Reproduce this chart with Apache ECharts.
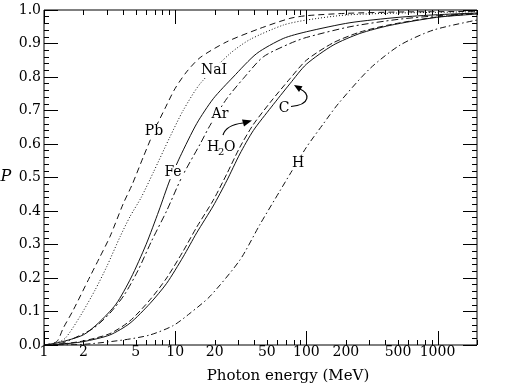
<!DOCTYPE html>
<html>
<head>
<meta charset="utf-8">
<title>Pair conversion probability</title>
<script src="https://cdn.jsdelivr.net/npm/echarts@6/dist/echarts.min.js"></script>
<style>
  html, body { margin: 0; padding: 0; background: #fff; }
  #chart { width: 505px; height: 388px; }
</style>
</head>
<body>
<div id="chart"></div>
<script>
// [photon energy (MeV), P], one list per material
const pbCurve = [[1, 0], [1.25, 0.01], [1.4, 0.05], [1.67, 0.104], [2.24, 0.204], [2.67, 0.263], [3.18, 0.323],
  [4.02, 0.422], [4.69, 0.478], [5.71, 0.561], [7.02, 0.645], [8.36, 0.706], [9.96, 0.765], [12.2, 0.815],
  [15.5, 0.858], [24.7, 0.905], [44.3, 0.945], [75, 0.975], [100, 0.983], [200, 0.99], [500, 0.994],
  [1000, 0.995], [2000, 0.996]]
const naiCurve = [[1, 0], [1.2, 0.004], [1.45, 0.02], [1.88, 0.085], [2.45, 0.164], [3.0, 0.233], [3.8, 0.323],
  [4.52, 0.383], [5.5, 0.44], [6.81, 0.515], [9.12, 0.621], [11.5, 0.7], [15.5, 0.78], [26.2, 0.87],
  [37.2, 0.912], [66.7, 0.955], [100, 0.97], [200, 0.985], [500, 0.991], [1000, 0.993], [2000, 0.995]]
const feCurve = [[1, 0], [1.32, 0.008], [1.99, 0.03], [2.59, 0.065], [3.54, 0.122], [4.6, 0.2], [6.0, 0.3],
  [7.5, 0.4], [9.12, 0.493], [10.9, 0.562], [14.6, 0.661], [19.5, 0.735], [27.7, 0.8], [41.8, 0.87],
  [66.7, 0.915], [100, 0.935], [215, 0.962], [500, 0.978], [1000, 0.986], [2000, 0.991]]
const arCurve = [[1, 0], [1.3, 0.003], [1.58, 0.015], [2.38, 0.05], [3.18, 0.095], [4.1, 0.15], [5.2, 0.222],
  [6.6, 0.31], [8.6, 0.4], [11.2, 0.5], [15.5, 0.6], [18.4, 0.655], [24.7, 0.735], [33, 0.795], [46.9, 0.86],
  [75, 0.9], [100, 0.918], [215, 0.95], [500, 0.972], [1000, 0.983], [2000, 0.99]]
const h2oCurve = [[1, 0], [1.3, 0.002], [1.99, 0.012], [3.18, 0.034], [4.52, 0.072], [6.43, 0.135], [8.61, 0.2],
  [11.5, 0.28], [14.6, 0.352], [19.5, 0.432], [24.7, 0.51], [31.1, 0.59], [39.4, 0.658], [54, 0.728],
  [75, 0.795], [100, 0.85], [160, 0.902], [256, 0.934], [433, 0.956], [984, 0.979], [2000, 0.989]]
const cCurve = [[1, 0], [1.3, 0.002], [1.99, 0.01], [3.18, 0.03], [4.52, 0.065], [6.43, 0.124], [8.61, 0.184],
  [11.5, 0.263], [14.6, 0.335], [19.5, 0.415], [24.7, 0.49], [31.1, 0.57], [39.4, 0.64], [54, 0.71],
  [75, 0.78], [100, 0.838], [160, 0.895], [256, 0.93], [433, 0.954], [984, 0.978], [2000, 0.988]]
const hCurve = [[1, 0], [2, 0.002], [4.02, 0.015], [6.43, 0.03], [9.67, 0.058], [13, 0.095], [18.4, 0.145],
  [31.2, 0.254], [44.3, 0.36], [62.9, 0.46], [75, 0.51], [100, 0.59], [134.6, 0.66], [175, 0.72],
  [305, 0.825], [517, 0.895], [927, 0.94], [2000, 0.97]]

// x axis ticks (log scale) and which of them carry a label
const majorTicks = [1, 10, 100, 1000]
const minorTicks = [2, 3, 4, 5, 6, 7, 8, 9, 20, 30, 40, 50, 60, 70, 80, 90,
  200, 300, 400, 500, 600, 700, 800, 900, 2000]
const tickLabels = [1, 2, 5, 10, 20, 50, 100, 200, 500, 1000]

const serif = '"DejaVu Serif", "Liberation Serif", serif'
const ink = '#111'

function curve(name, data, dash) {
  return {
    name: name,
    type: 'line',
    data: data,
    showSymbol: false,
    smooth: 0.25,
    silent: true,
    lineStyle: { color: ink, width: 1, type: dash }
  }
}

function yAxisSide(position, showLabel) {
  return {
    type: 'value',
    position: position,
    min: 0,
    max: 1,
    interval: 0.1,
    axisLine: { show: false },
    axisTick: { inside: true, length: 14, lineStyle: { color: '#000', width: 1 } },
    minorTick: { show: true, splitNumber: 5, length: 5, lineStyle: { color: '#000', width: 1 } },
    splitLine: { show: false },
    axisLabel: {
      show: showLabel,
      margin: 3,
      color: '#000',
      fontFamily: serif,
      fontSize: 14,
      formatter: function(v) { return v.toFixed(1) }
    }
  }
}

// curve labels sit on top of their curve and blank it out behind the text
function label(text, x, y, onCurve) {
  const style = { text: text, font: '14px ' + serif, fill: '#000', align: 'center', verticalAlign: 'middle' }
  if (onCurve) {
    style.backgroundColor = '#fff'
    style.padding = [0, 2]
  }
  return { type: 'text', x: x, y: y, z: 10, silent: true, style: style }
}

const chart = echarts.init(document.getElementById('chart'))
chart.setOption({
  animation: false,
  backgroundColor: '#fff',
  grid: { left: 44, right: 28, top: 10, bottom: 43, show: true, borderColor: '#000', borderWidth: 1 },
  xAxis: {
    type: 'log',
    logBase: 10,
    min: 1,
    max: 2000,
    axisLine: { show: false },
    axisTick: { show: false },
    axisLabel: { show: false },
    splitLine: { show: false }
  },
  yAxis: [yAxisSide('left', true), yAxisSide('right', false)],
  series: [
    curve('Pb', pbCurve, [6, 4]),
    curve('NaI', naiCurve, [1, 2]),
    curve('Fe', feCurve, 'solid'),
    curve('Ar', arCurve, [7, 3, 2, 3]),
    curve('H2O', h2oCurve, [6, 3]),
    curve('C', cCurve, 'solid'),
    curve('H', hCurve, [6, 3, 1.5, 3]),
    {
      // tick marks on bottom and top edges
      type: 'custom',
      silent: true,
      clip: false,
      data: majorTicks.concat(minorTicks).map(v => [v, 0]),
      renderItem: function(params, api) {
        const v = api.value(0)
        const b = api.coord([v, 0])
        const t = api.coord([v, 1])
        const len = majorTicks.indexOf(v) >= 0 ? 14 : 5
        const x = Math.round(b[0]) + 0.5
        return {
          type: 'group',
          children: [
            { type: 'line', shape: { x1: x, y1: b[1], x2: x, y2: b[1] - len }, style: { stroke: '#000', lineWidth: 1 } },
            { type: 'line', shape: { x1: x, y1: t[1], x2: x, y2: t[1] + len }, style: { stroke: '#000', lineWidth: 1 } }
          ]
        }
      }
    },
    {
      // tick labels under the bottom edge
      type: 'custom',
      silent: true,
      clip: false,
      data: tickLabels.map(v => [v, 0]),
      renderItem: function(params, api) {
        const v = api.value(0)
        const b = api.coord([v, 0])
        return {
          type: 'text',
          x: b[0],
          y: b[1] + 7,
          style: { text: String(v), font: '14px ' + serif, fill: '#000', align: 'center', verticalAlign: 'middle' }
        }
      }
    }
  ],
  graphic: [
    label('Pb', 154, 131, true),
    label('NaI', 214, 70, true),
    label('Fe', 173, 172, true),
    label('Ar', 220, 114, true),
    label('C', 284, 108),
    label('H', 298, 163, true),
    { type: 'text', x: 207, y: 147, silent: true, style: { text: 'H', font: '14px ' + serif, fill: '#000', align: 'left', verticalAlign: 'middle' } },
    { type: 'text', x: 218, y: 152, silent: true, style: { text: '2', font: '10px ' + serif, fill: '#000', align: 'left', verticalAlign: 'middle' } },
    { type: 'text', x: 224, y: 147, silent: true, style: { text: 'O', font: '14px ' + serif, fill: '#000', align: 'left', verticalAlign: 'middle' } },
    { type: 'text', x: 6, y: 177, silent: true, style: { text: 'P', font: 'italic 16px ' + serif, fill: '#000', align: 'center', verticalAlign: 'middle' } },
    { type: 'text', x: 288, y: 376, silent: true, style: { text: 'Photon energy (MeV)', font: '15px ' + serif, fill: '#000', align: 'center', verticalAlign: 'middle' } },
    // arrow pointing from H2O label to its curve
    { type: 'bezierCurve', silent: true, shape: { x1: 223, y1: 135, cpx1: 226, cpy1: 125, x2: 243, y2: 123 }, style: { stroke: '#000', lineWidth: 1.2, fill: null } },
    { type: 'polygon', silent: true, shape: { points: [[252, 120.5], [242, 119.6], [244, 126.6]] }, style: { fill: '#000' } },
    // arrow from C label up to the C curve
    { type: 'bezierCurve', silent: true, shape: { x1: 291, y1: 106.5, cpx1: 311, cpy1: 105, cpx2: 310, cpy2: 93, x2: 300, y2: 89 }, style: { stroke: '#000', lineWidth: 1.2, fill: null } },
    { type: 'polygon', silent: true, shape: { points: [[294, 85], [302.5, 86.2], [299, 92]] }, style: { fill: '#000' } }
  ]
})
</script>
</body>
</html>
